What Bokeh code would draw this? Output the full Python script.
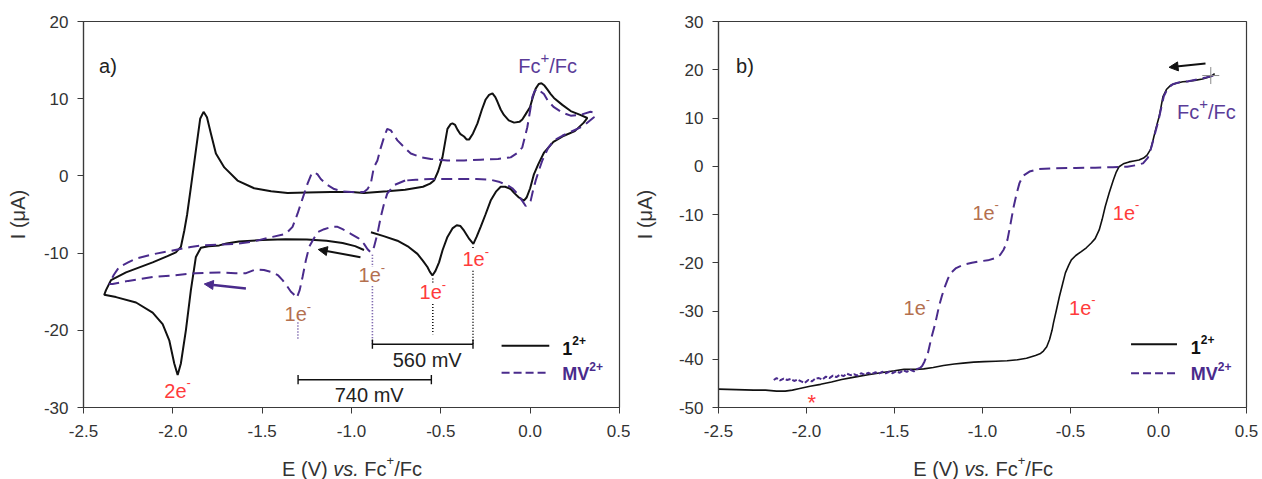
from bokeh.plotting import figure
from bokeh.layouts import row, column
from bokeh.models import Label, Arrow, NormalHead, FixedTicker, NumeralTickFormatter
from bokeh.embed import file_html
from bokeh.resources import INLINE

FONT = "Liberation Sans"
BLACK = "#111111"
PURPLE = "#4a2b8c"
FC_PURPLE = "#5a3c98"
RED = "#ff3b3b"
BROWN = "#b4704f"
AXIS = "#3a3a3a"

# ---------------- Panel a: cyclic voltammograms ----------------
cv1_E = [-0.93, -0.98, -1.05, -1.14, -1.25, -1.37, -1.50, -1.63, -1.70, -1.74, -1.80, -1.843,
         -1.871, -1.899, -1.927, -1.955, -1.973, -1.992, -2.02, -2.057, -2.113, -2.206, -2.318,
         -2.384, -2.374, -2.346, -2.262, -2.113, -2.03, -1.983, -1.955, -1.936, -1.92, -1.899,
         -1.871, -1.847, -1.828, -1.809, -1.787, -1.759, -1.712, -1.638, -1.545, -1.45, -1.358,
         -1.25, -1.116, -1.0, -0.93, -0.80, -0.70, -0.60, -0.56, -0.538, -0.515, -0.491, -0.475,
         -0.463, -0.445, -0.435, -0.42, -0.407, -0.39, -0.370, -0.355, -0.342, -0.32, -0.295,
         -0.27, -0.249, -0.23, -0.211, -0.195, -0.183, -0.165, -0.147, -0.12, -0.09, -0.06,
         -0.044, -0.025, -0.001, 0.015, 0.031, 0.048, 0.063, 0.08, 0.096, 0.115, 0.133, 0.18,
         0.227, 0.28, 0.32, 0.30, 0.25, 0.189, 0.13, 0.077, 0.045, 0.021, 0.0, -0.02, -0.035,
         -0.063, -0.09, -0.109, -0.14, -0.165, -0.19, -0.221, -0.25, -0.277, -0.30, -0.318,
         -0.34, -0.370, -0.39, -0.411, -0.435, -0.463, -0.49, -0.510, -0.530, -0.547, -0.562,
         -0.575, -0.60, -0.631, -0.68, -0.743, -0.82, -0.891]
cv1_I = [-9.6, -9.1, -8.7, -8.4, -8.25, -8.2, -8.3, -8.5, -8.75, -9.0, -9.1, -9.3,
         -10.5, -14.8, -20.0, -24.3, -25.8, -24.3, -21.3, -19.2, -17.7, -16.4, -15.7,
         -15.4, -14.8, -13.5, -12.5, -11.2, -10.4, -9.9, -9.2, -7.1, -5.0, -1.5,
         3.3, 7.4, 8.3, 7.6, 5.5, 2.9, 1.1, -0.6, -1.6, -2.0, -2.2,
         -2.15, -2.1, -2.1, -2.2, -2.0, -1.8, -1.4, -1.0, -0.6, 0.6, 2.4, 4.5,
         6.1, 6.7, 6.8, 6.6, 6.0, 5.4, 5.1, 4.7, 4.7, 5.5, 6.8,
         8.6, 9.9, 10.5, 10.7, 10.2, 9.6, 8.6, 7.9, 7.2, 6.9, 7.0,
         7.3, 8.0, 8.9, 10.2, 11.3, 11.9, 12.0, 11.7, 11.2, 10.6, 10.1, 9.2,
         8.4, 7.9, 7.5, 6.9, 5.8, 5.2, 4.4, 3.0, 1.5, 0.2, -1.6, -2.8, -3.2,
         -2.8, -2.2, -1.7, -1.4, -1.4, -2.0, -3.2, -5.0, -6.6, -7.9, -8.8,
         -8.2, -7.1, -6.5, -6.4, -6.8, -7.9, -9.6, -11.2, -12.3, -12.9, -12.4,
         -11.8, -11.0, -10.1, -9.2, -8.4, -7.8, -7.3]

mv_cv_E = [-0.70, -0.762, -0.80, -0.82, -0.836, -0.855, -0.874, -0.892, -0.91, -0.93, -0.96,
           -1.004, -1.05, -1.078, -1.11, -1.153, -1.19, -1.218, -1.237, -1.256, -1.274, -1.29,
           -1.306, -1.325, -1.339, -1.36, -1.386, -1.41, -1.442, -1.49, -1.535, -1.59, -1.65,
           -1.741, -1.871, -2.0, -2.113, -2.25, -2.337, -2.356, -2.33, -2.30, -2.25, -2.206,
           -2.1, -2.02, -1.9, -1.833, -1.647, -1.55, -1.442, -1.367, -1.33, -1.302, -1.275,
           -1.246, -1.225, -1.209, -1.19, -1.172, -1.14, -1.097, -1.05, -1.0, -0.93, -0.91,
           -0.892, -0.875, -0.855, -0.838, -0.818, -0.80, -0.78, -0.76, -0.743, -0.70, -0.668,
           -0.61, -0.556, -0.463, -0.37, -0.277, -0.18, -0.109, -0.07, -0.044, -0.03, -0.016,
           0.0, 0.012, 0.025, 0.04, 0.055, 0.077, 0.1, 0.133, 0.18, 0.227, 0.28, 0.338, 0.36,
           0.357, 0.3, 0.227, 0.18, 0.133, 0.1, 0.068, 0.05, 0.031, 0.015, 0.003, -0.012,
           -0.025, -0.045, -0.072, -0.1, -0.128, -0.17, -0.221, -0.3, -0.37, -0.46, -0.556,
           -0.64, -0.70]
mv_cv_I = [-0.6, -1.2, -2.3, -3.8, -5.3, -7.5, -9.2, -9.9, -9.5, -8.8, -8.1,
           -7.5, -6.9, -6.6, -6.6, -6.9, -7.3, -8.4, -9.2, -11.0, -13.1, -14.8,
           -15.8, -15.3, -15.0, -14.3, -13.5, -12.9, -12.5, -12.2, -12.1, -12.6, -12.6,
           -12.5, -12.6, -12.9, -13.1, -13.6, -14.0, -14.0, -12.8, -11.8, -11.2, -10.7,
           -10.1, -9.75, -9.2, -9.0, -8.8, -8.5, -7.9, -7.5, -6.6, -4.9, -3.0,
           -1.0, 0.2, 0.5, 0.2, -0.4, -1.1, -1.7, -2.0, -2.1, -2.1, -1.7,
           -1.0, 1.1, 2.0, 3.5, 5.0, 6.1, 5.9, 5.2, 4.6, 3.6, 2.9,
           2.4, 2.2, 2.0, 2.0, 2.1, 2.2, 2.4, 3.0, 3.7, 5.0, 6.3,
           8.5, 10.2, 11.0, 11.3, 11.0, 10.6, 9.7, 8.9, 8.2, 7.8, 7.9, 8.3, 8.2,
           7.6, 6.5, 5.7, 5.2, 4.6, 3.6, 2.0, 0.8, -0.6, -2.0, -3.2, -3.7,
           -3.9, -3.2, -2.3, -1.6, -1.2, -0.8, -0.5, -0.4, -0.4, -0.4, -0.4,
           -0.5, -0.6]

# peak potentials marked by dotted lines (V) and their spans (uA)
a_marks_E = [-1.30, -0.883, -0.883, -0.545, -0.545, -0.32, -0.32]
a_marks_top = [-19.0, -10.2, -14.3, -13.3, -16.6, -9.2, -12.3]
a_marks_bot = [-21.2, -11.8, -21.8, -14.0, -20.5, -9.6, -21.8]
a_marks_col = ["#5a3c98", "#5a3c98", "#5a3c98", BLACK, BLACK, BLACK, BLACK]

# separation bars
bar_E0 = [-0.883, -1.299]
bar_E1 = [-0.32, -0.553]
bar_I = [-21.8, -26.4]
bar_text = ["560 mV", "740 mV"]

# ---------------- Panel b: linear sweep voltammograms ----------------
lsv1_E = [-2.50, -2.40, -2.30, -2.233, -2.17, -2.121, -2.08, -2.045, -1.98, -1.92, -1.858,
          -1.80, -1.728, -1.65, -1.577, -1.50, -1.446, -1.38, -1.334, -1.28, -1.222, -1.16,
          -1.11, -1.05, -0.99, -0.925, -0.86, -0.80, -0.75, -0.699, -0.67, -0.654, -0.635,
          -0.619, -0.605, -0.597, -0.58, -0.563, -0.545, -0.529, -0.51, -0.495, -0.47, -0.439,
          -0.41, -0.382, -0.36, -0.337, -0.32, -0.303, -0.28, -0.257, -0.24, -0.224, -0.2,
          -0.167, -0.14, -0.111, -0.085, -0.065, -0.045, -0.031, -0.015, 0.003, 0.015, 0.025,
          0.045, 0.07, 0.10, 0.138, 0.17, 0.206, 0.25, 0.297, 0.319]
lsv1_I = [-46.2, -46.3, -46.4, -46.4, -46.6, -46.6, -46.4, -46.1, -45.6, -45.2, -44.7,
          -44.2, -43.7, -43.2, -42.8, -42.4, -42.1, -42.1, -42.0, -41.7, -41.3, -41.0,
          -40.8, -40.6, -40.5, -40.4, -40.3, -40.1, -39.8, -39.2, -38.8, -38.3, -37.4,
          -35.9, -34.0, -32.5, -29.8, -27.0, -24.4, -22.1, -20.5, -19.4, -18.5, -17.7,
          -16.9, -15.9, -15.0, -13.2, -11.0, -8.4, -5.5, -2.9, -1.2, -0.1, 0.5,
          0.9, 1.1, 1.3, 1.7, 2.3, 3.5, 5.4, 7.8, 10.2, 12.4, 14.4,
          15.9, 16.8, 17.2, 17.5, 17.6, 17.8, 18.1, 18.6, 19.2]

mv_noisy_E = [-2.186, -2.17, -2.15, -2.13, -2.11, -2.09, -2.07, -2.05, -2.03, -2.01, -1.99,
              -1.97, -1.95, -1.93, -1.91, -1.89, -1.87, -1.85, -1.83, -1.81, -1.79, -1.77,
              -1.75, -1.73, -1.71, -1.69, -1.67, -1.65, -1.63, -1.61, -1.59, -1.57, -1.55,
              -1.53, -1.51, -1.49, -1.47, -1.45, -1.43, -1.41, -1.39, -1.37, -1.355]
mv_noisy_I = [-44.3, -43.9, -44.4, -44.0, -44.3, -44.1, -44.5, -44.2, -44.6, -44.9, -44.3,
              -44.6, -44.0, -43.9, -44.2, -43.6, -43.9, -43.4, -43.7, -43.2, -43.5, -43.0,
              -43.3, -43.1, -43.4, -42.9, -43.2, -42.8, -43.1, -42.7, -43.0, -42.6, -42.9,
              -42.6, -42.9, -42.5, -42.8, -42.3, -42.6, -42.2, -42.5, -42.0, -41.8]
mv_lsv_E = [-1.355, -1.343, -1.33, -1.31, -1.29, -1.268, -1.247, -1.23, -1.213, -1.195, -1.179,
            -1.15, -1.106, -1.06, -1.016, -0.97, -0.925, -0.90, -0.88, -0.868, -0.858, -0.84,
            -0.823, -0.805, -0.79, -0.77, -0.733, -0.68, -0.586, -0.47, -0.36, -0.26, -0.178,
            -0.13, -0.088, -0.06, -0.04, -0.02, 0.0, 0.015, 0.03, 0.05, 0.08, 0.12, 0.17,
            0.22, 0.27, 0.32]
mv_lsv_I = [-41.8, -41.4, -40.5, -38.7, -35.5, -32.5, -29.0, -26.8, -24.9, -23.2, -22.1,
            -21.1, -20.4, -20.0, -19.7, -19.5, -19.0, -18.4, -17.3, -16.3, -15.2, -11.8,
            -8.4, -5.5, -3.5, -2.0, -1.1, -0.6, -0.4, -0.35, -0.3, -0.2, -0.1,
            0.2, 0.6, 1.8, 4.0, 6.8, 9.5, 12.0, 14.5, 16.0, 17.0, 17.4, 17.6,
            18.0, 18.4, 18.9]
b_cross_E = [0.297]
b_cross_I = [18.8]

xticks = [-2.5, -2.0, -1.5, -1.0, -0.5, 0.0, 0.5]
a_yticks = [-30, -20, -10, 0, 10, 20]
b_yticks = [-50, -40, -30, -20, -10, 0, 10, 20, 30]

# Arial-compatible advance widths (em)
ADV = {'E': .667, ' ': .278, '(': .333, ')': .333, 'V': .667, 'v': .5, 's': .5, '.': .278,
       'F': .611, 'c': .5, '+': .584, '/': .278, 'e': .556, '-': .333, 'M': .833, 'm': .833,
       'I': .278, 'A': .667, 'a': .556, 'b': .556, '*': .389}


def tw(s, size):
    return sum(ADV.get(ch, .556) for ch in s) * size


def rich(p, x, y, segs, align="center"):
    """segs: (text, size, style, dy, color); surrounding spaces become offsets."""
    total = sum(tw(s[0], s[1]) for s in segs)
    off = -total / 2 if align == "center" else 0.0
    for text, size, style, dy, color in segs:
        lead = len(text) - len(text.lstrip(" "))
        p.add_layout(Label(x=x, y=y, x_offset=off + tw(text[:lead], size), y_offset=dy,
                           text=text.strip(" "), text_font=FONT, text_font_size=f"{size}px",
                           text_font_style=style, text_color=color,
                           text_align="left", text_baseline="middle"))
        off += tw(text, size)


def one_e(p, x, y, color):
    rich(p, x, y, [("1e", 20, "normal", 0, color), ("-", 13, "normal", 8, color)])


MAIN_H = 454
TITLE_H = 25


def base_fig(width, yr, yt, left, right, ystandoff):
    p = figure(width=width, height=MAIN_H, x_range=(-2.5, 0.5), y_range=yr,
               output_backend="svg", toolbar_location=None,
               min_border_left=left, min_border_right=right,
               min_border_top=21, min_border_bottom=MAIN_H - 407)
    p.grid.visible = False
    p.outline_line_color = AXIS
    p.outline_line_width = 1.2
    p.background_fill_color = "white"
    p.border_fill_color = "white"
    for ax in (p.xaxis[0], p.yaxis[0]):
        ax.axis_line_color = AXIS
        ax.axis_line_width = 1.2
        ax.major_tick_line_color = AXIS
        ax.major_tick_out = 6
        ax.major_tick_in = 0
        ax.minor_tick_out = 0
        ax.minor_tick_in = 0
        ax.major_label_text_font = FONT
        ax.major_label_text_font_size = "17px"
        ax.major_label_text_color = "#333333"
    p.xaxis.ticker = FixedTicker(ticks=xticks)
    p.xaxis.formatter = NumeralTickFormatter(format="0.0")
    p.xaxis.major_label_standoff = 11
    p.yaxis.ticker = FixedTicker(ticks=yt)
    p.yaxis.formatter = NumeralTickFormatter(format="0")
    p.yaxis.major_label_standoff = 9
    p.yaxis.axis_label = "I (\u03bcA)"
    p.yaxis.axis_label_text_font = FONT
    p.yaxis.axis_label_text_font_size = "20px"
    p.yaxis.axis_label_text_font_style = "normal"
    p.yaxis.axis_label_text_color = "#333333"
    p.yaxis.axis_label_standoff = ystandoff
    return p


def title_fig(width, cx):
    t = figure(width=width, height=TITLE_H, x_range=(0, width), y_range=(0, TITLE_H),
               output_backend="svg", toolbar_location=None, title=None,
               min_border_left=0, min_border_right=0, min_border_top=0, min_border_bottom=0)
    t.axis.visible = False
    t.grid.visible = False
    t.outline_line_color = None
    t.background_fill_color = "white"
    t.border_fill_color = "white"
    rich(t, cx, TITLE_H - 14, [("E (V) ", 20, "normal", 0, "#333333"),
                               ("vs.", 20, "italic", 0, "#333333"),
                               (" Fc", 20, "normal", 0, "#333333"),
                               ("+", 13, "normal", 8, "#333333"),
                               ("/Fc", 20, "normal", 0, "#333333")])
    return t


# ---------------- build panel a ----------------
pa = base_fig(630, (-30, 20), a_yticks, 83, 11, 12)
pa.line(cv1_E, cv1_I, line_color=BLACK, line_width=2)
pa.line(mv_cv_E, mv_cv_I, line_color=PURPLE, line_width=2, line_dash="11 6")
pa.segment(x0=a_marks_E, y0=a_marks_top, x1=a_marks_E, y1=a_marks_bot,
           line_color=a_marks_col, line_width=1.6, line_dash="1 2")
pa.segment(x0=bar_E0, y0=bar_I, x1=bar_E1, y1=bar_I, line_color=BLACK, line_width=1.4)
pa.segment(x0=bar_E0 + bar_E1, y0=[v + 0.6 for v in bar_I] * 2,
           x1=bar_E0 + bar_E1, y1=[v - 0.6 for v in bar_I] * 2, line_color=BLACK, line_width=1.4)
for e0, e1, iv, t, dy in zip(bar_E0, bar_E1, bar_I, bar_text, [-2.05, -1.95]):
    pa.add_layout(Label(x=(e0 + e1) / 2 + 0.025, y=iv + dy, text=t, text_font=FONT,
                        text_font_size="20px", text_color="#222222",
                        text_align="center", text_baseline="middle"))
pa.add_layout(Arrow(x_start=-0.95, y_start=-10.53, x_end=-1.186, y_end=-9.53,
                    line_color=BLACK, line_width=2,
                    end=NormalHead(size=9, fill_color=BLACK, line_color=BLACK)))
pa.add_layout(Arrow(x_start=-1.591, y_start=-14.6, x_end=-1.824, y_end=-14.0,
                    line_color=PURPLE, line_width=2.5,
                    end=NormalHead(size=9, fill_color=PURPLE, line_color=PURPLE)))
one_e(pa, -1.30, -17.95, BROWN)
one_e(pa, -0.886, -12.9, BROWN)
one_e(pa, -0.545, -15.1, RED)
one_e(pa, -0.305, -10.8, RED)
rich(pa, -1.973, -27.8, [("2e", 20, "normal", 0, RED), ("-", 13, "normal", 8, RED)])
rich(pa, 0.098, 14.2, [("Fc", 20, "normal", 0, FC_PURPLE), ("+", 15, "normal", 8, FC_PURPLE),
                       ("/Fc", 20, "normal", 0, FC_PURPLE)])
pa.add_layout(Label(x=-2.413, y=14.2, text="a)", text_font=FONT, text_font_size="20px",
                    text_color="#222222", text_align="left", text_baseline="middle"))
# legend
pa.line([-0.16, 0.107], [-22.0, -22.0], line_color=BLACK, line_width=2)
pa.line([-0.16, 0.107], [-25.5, -25.5], line_color=PURPLE, line_width=2, line_dash="8 4")
rich(pa, 0.18, -22.3, [("1", 18, "bold", 0, BLACK), ("2+", 12, "bold", 8, BLACK)], align="left")
rich(pa, 0.18, -25.7, [("MV", 18, "bold", 0, PURPLE), ("2+", 12, "bold", 8, PURPLE)], align="left")

# ---------------- build panel b ----------------
pb = base_fig(632, (-50, 30), b_yticks, 82, 16, 20)
pb.line(lsv1_E, lsv1_I, line_color=BLACK, line_width=1.6)
pb.line(mv_noisy_E, mv_noisy_I, line_color=PURPLE, line_width=2, line_dash="5 2")
pb.line(mv_lsv_E, mv_lsv_I, line_color=PURPLE, line_width=2, line_dash="11 6")
pb.scatter(b_cross_E, b_cross_I, marker="cross", size=17, line_color="#8a8a8a", line_width=1)
pb.add_layout(Arrow(x_start=0.267, y_start=21.3, x_end=0.060, y_end=20.5,
                    line_color=BLACK, line_width=2,
                    end=NormalHead(size=9, fill_color=BLACK, line_color=BLACK)))
one_e(pb, -0.982, -9.67, BROWN)
one_e(pb, -0.184, -9.67, RED)
one_e(pb, -1.373, -29.3, BROWN)
one_e(pb, -0.433, -29.3, RED)
pb.add_layout(Label(x=-1.97, y=-48.9, text="*", text_font=FONT, text_font_size="22px",
                    text_color=RED, text_align="center", text_baseline="middle"))
rich(pb, 0.272, 11.2, [("Fc", 20, "normal", 0, FC_PURPLE), ("+", 15, "normal", 8, FC_PURPLE),
                       ("/Fc", 20, "normal", 0, FC_PURPLE)])
pb.add_layout(Label(x=-2.40, y=20.7, text="b)", text_font=FONT, text_font_size="20px",
                    text_color="#222222", text_align="left", text_baseline="middle"))
pb.line([-0.156, 0.105], [-36.9, -36.9], line_color=BLACK, line_width=2)
pb.line([-0.156, 0.105], [-42.9, -42.9], line_color=PURPLE, line_width=2, line_dash="8 4")
rich(pb, 0.183, -37.5, [("1", 18, "bold", 0, BLACK), ("2+", 12, "bold", 8, BLACK)], align="left")
rich(pb, 0.183, -43.1, [("MV", 18, "bold", 0, PURPLE), ("2+", 12, "bold", 8, PURPLE)], align="left")

ta = title_fig(630, 351.5)
tb = title_fig(632, 352.7)

layout = column(row(pa, pb), row(ta, tb))
open("out.html", "w").write(file_html(layout, INLINE))
